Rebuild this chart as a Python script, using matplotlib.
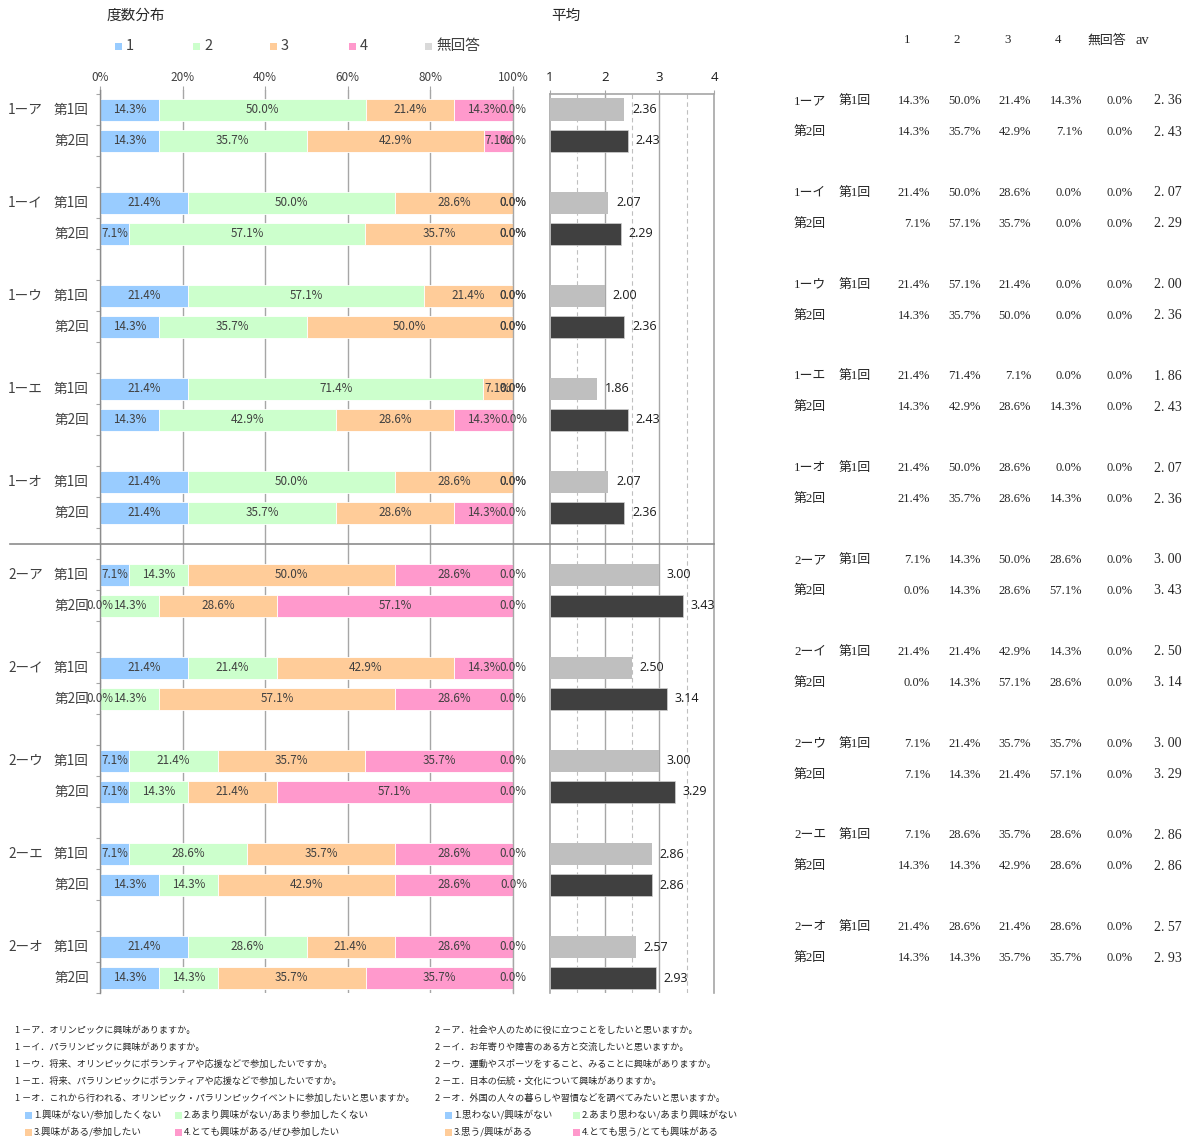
import matplotlib
matplotlib.use('Agg')
import matplotlib.pyplot as plt
from matplotlib.patches import Rectangle
from matplotlib.lines import Line2D

plt.rcParams['font.family'] = ['Noto Sans CJK JP', 'DejaVu Sans']

# ---------------- data ----------------
groups = ['1ーア', '1ーイ', '1ーウ', '1ーエ', '1ーオ', '2ーア', '2ーイ', '2ーウ', '2ーエ', '2ーオ']
rounds = ['第1回', '第2回']
series_names = ['1', '2', '3', '4', '無回答']
pct1 = [14.3, 14.3, 21.4, 7.1, 21.4, 14.3, 21.4, 14.3, 21.4, 21.4,
        7.1, 0.0, 21.4, 0.0, 7.1, 7.1, 7.1, 14.3, 21.4, 14.3]
pct2 = [50.0, 35.7, 50.0, 57.1, 57.1, 35.7, 71.4, 42.9, 50.0, 35.7,
        14.3, 14.3, 21.4, 14.3, 21.4, 14.3, 28.6, 14.3, 28.6, 14.3]
pct3 = [21.4, 42.9, 28.6, 35.7, 21.4, 50.0, 7.1, 28.6, 28.6, 28.6,
        50.0, 28.6, 42.9, 57.1, 35.7, 21.4, 35.7, 42.9, 21.4, 35.7]
pct4 = [14.3, 7.1, 0.0, 0.0, 0.0, 0.0, 0.0, 14.3, 0.0, 14.3,
        28.6, 57.1, 14.3, 28.6, 35.7, 57.1, 28.6, 28.6, 28.6, 35.7]
pct_na = [0.0, 0.0, 0.0, 0.0, 0.0, 0.0, 0.0, 0.0, 0.0, 0.0,
          0.0, 0.0, 0.0, 0.0, 0.0, 0.0, 0.0, 0.0, 0.0, 0.0]
avg = [2.36, 2.43, 2.07, 2.29, 2.00, 2.36, 1.86, 2.43, 2.07, 2.36,
       3.00, 3.43, 2.50, 3.14, 3.00, 3.29, 2.86, 2.86, 2.57, 2.93]
pct_ticks = [0, 20, 40, 60, 80, 100]
pct_tick_labels = ['0%', '20%', '40%', '60%', '80%', '100%']
avg_ticks = [1, 2, 3, 4]
table_header = ['1', '2', '3', '4', '無回答', 'av']
notes_left = ['1 －ア．オリンピックに興味がありますか。',
              '1 －イ．パラリンピックに興味がありますか。',
              '1 －ウ．将来、オリンピックにボランティアや応援などで参加したいですか。',
              '1 －エ．将来、パラリンピックにボランティアや応援などで参加したいですか。',
              '1 －オ．これから行われる、オリンピック・パラリンピックイベントに参加したいと思いますか。']
notes_right = ['2 －ア．社会や人のために役に立つことをしたいと思いますか。',
               '2 －イ．お年寄りや障害のある方と交流したいと思いますか。',
               '2 －ウ．運動やスポーツをすること、みることに興味がありますか。',
               '2 －エ．日本の伝統・文化について興味がありますか。',
               '2 －オ．外国の人々の暮らしや習慣などを調べてみたいと思いますか。']
legend_left = ['1.興味がない/参加したくない', '2.あまり興味がない/あまり参加したくない',
               '3.興味がある/参加したい', '4.とても興味がある/ぜひ参加したい']
legend_right = ['1.思わない/興味がない', '2.あまり思わない/あまり興味がない',
                '3.思う/興味がある', '4.とても思う/とても興味がある']

colors = ['#99CCFF', '#CCFFCC', '#FFCC99', '#FF99CC', '#D9D9D9']
avg_colors = ['#BFBFBF', '#404040']
txt = '#404040'
gridc = '#A6A6A6'

W, H = 1190, 1139
fig = plt.figure(figsize=(W / 100, H / 100), dpi=100)


def fx(x):
    return x / W


def fy(y):
    return 1 - y / H


def rect_px(x0, y0, x1, y1):
    return [fx(x0), fy(y1), fx(x1) - fx(x0), fy(y0) - fy(y1)]


n = len(pct1)
slots = [(i // 2) * 3 + (i % 2) for i in range(n)]
bar_h = 0.71
ybot = 28.48

# ---------------- left: distribution ----------------
ax = fig.add_axes(rect_px(100, 90, 513, 993))
series = [pct1, pct2, pct3, pct4, pct_na]
lefts = [0.0] * n
for k, vals in enumerate(series):
    ax.barh(slots, vals, left=lefts, height=bar_h, color=colors[k], edgecolor='white',
            linewidth=0.6, zorder=3)
    for i in range(n):
        ax.text(lefts[i] + vals[i] / 2, slots[i], f'{vals[i]:.1f}%', ha='center', va='center',
                fontsize=8.4, color=txt, zorder=5, clip_on=False)
    lefts = [lefts[i] + vals[i] for i in range(n)]

ax.set_xlim(0, 100)
ax.set_ylim(ybot, -0.645)
ax.xaxis.tick_top()
ax.set_xticks(pct_ticks)
ax.set_xticklabels(pct_tick_labels, fontsize=8.5, color=txt)
ax.tick_params(axis='x', length=3, width=0.8, color=gridc, pad=1.5)
ax.set_yticks([s - 0.5 for s in range(0, 30)])
ax.set_yticklabels([])
ax.tick_params(axis='y', length=3, width=0.8, color=gridc)
ax.grid(axis='x', color=gridc, linewidth=1.0, zorder=0)
for sp in ['top', 'bottom']:
    ax.spines[sp].set_visible(False)
ax.spines['right'].set_color(gridc)
ax.spines['right'].set_linewidth(1.0)
ax.spines['right'].set_zorder(4)
ax.spines['left'].set_color('#8C8C8C')
ax.spines['left'].set_linewidth(1.0)
ax.spines['left'].set_zorder(4)

for i in range(n):
    ax.annotate(rounds[i % 2], xy=(0, slots[i]), xycoords=('axes fraction', 'data'),
                xytext=(-8, 0), textcoords='offset points', ha='right', va='center',
                fontsize=9.8, color=txt)
    if i % 2 == 0:
        ax.annotate(groups[i // 2], xy=(0, slots[i]), xycoords=('axes fraction', 'data'),
                    xytext=(-41, 0), textcoords='offset points', ha='right', va='center',
                    fontsize=9.8, color=txt)

# ---------------- middle: averages ----------------
ax2 = fig.add_axes(rect_px(550, 94, 714, 993))
for i in range(n):
    ax2.barh(slots[i], avg[i] - 1, left=1, height=bar_h, color=avg_colors[i % 2],
             edgecolor='#D0D0D0' if i % 2 else 'none', linewidth=0.5, zorder=3)
    ax2.annotate(f'{avg[i]:.2f}', xy=(avg[i], slots[i]), xytext=(5.5, 0),
                 textcoords='offset points', ha='left', va='center', fontsize=9,
                 color='#1A1A1A', family=['Open Sans', 'DejaVu Sans'])
ax2.set_xlim(1, 4)
ax2.set_ylim(ybot, -0.5)
ax2.xaxis.tick_top()
ax2.set_xticks(avg_ticks)
ax2.set_xticklabels([str(t) for t in avg_ticks], fontsize=9.5, color='#1A1A1A',
                    family=['Open Sans', 'DejaVu Sans'])
ax2.tick_params(axis='x', length=3, width=0.8, color=gridc, pad=4.5)
ax2.set_yticks([])
for t in avg_ticks[1:-1]:
    ax2.axvline(t, color=gridc, linewidth=1.0, zorder=0)
for t in [1.5, 2.5, 3.5]:
    ax2.axvline(t, color='#BFBFBF', linewidth=0.8, linestyle=(0, (4, 3)), zorder=0)
ax2.spines['bottom'].set_visible(False)
for sp in ['top', 'left', 'right']:
    ax2.spines[sp].set_color(gridc)
    ax2.spines[sp].set_linewidth(1.2)

# separator line between blocks
fig.add_artist(Line2D([fx(10), fx(714)], [fy(544), fy(544)], color='#8C8C8C', linewidth=1.2))

# ---------------- titles & legend ----------------
fig.text(fx(107), fy(16), '度数分布', fontsize=10.5, color='#262626', va='center', ha='left')
fig.text(fx(551), fy(16), '平均', fontsize=10.5, color='#262626', va='center', ha='left')
leg_x = [115, 193, 270, 349, 425]
for k, name in enumerate(series_names):
    fig.add_artist(Rectangle((fx(leg_x[k]), fy(50)), fx(7), 7 / H, transform=fig.transFigure,
                             facecolor=colors[k], edgecolor='none'))
    fig.text(fx(leg_x[k] + 11), fy(46), name, fontsize=10.5, color=txt, va='center', ha='left')

# ---------------- right: table ----------------
tfam = ['Liberation Serif', 'Noto Sans CJK JP']
tcol = '#262626'
tfs = 9.3
head_x = [907, 957, 1008, 1058]
for k in range(4):
    fig.text(fx(head_x[k]), fy(40), table_header[k], fontsize=tfs, family=tfam, color=tcol,
             ha='center', va='center')
fig.text(fx(1087), fy(40), table_header[4], fontsize=tfs, family=tfam, color=tcol,
         ha='left', va='center')
fig.text(fx(1136), fy(40), table_header[5], fontsize=10.5, family=tfam, color=tcol,
         ha='left', va='center')
col_r = [930, 981, 1031, 1082, 1133, 1182]
for i in range(n):
    y = 101 + (i // 2) * 91.8 + (i % 2) * 31
    if i % 2 == 0:
        fig.text(fx(794), fy(y), groups[i // 2], fontsize=tfs, family=tfam, color=tcol,
                 ha='left', va='center')
        fig.text(fx(839), fy(y), rounds[0], fontsize=tfs, family=tfam, color=tcol,
                 ha='left', va='center')
    else:
        fig.text(fx(794), fy(y), rounds[1], fontsize=tfs, family=tfam, color=tcol,
                 ha='left', va='center')
    vals = [pct1[i], pct2[i], pct3[i], pct4[i], pct_na[i]]
    for k, v in enumerate(vals):
        fig.text(fx(col_r[k]), fy(y), f'{v:.1f}%', fontsize=9, family=tfam, color=tcol,
                 ha='right', va='center')
    fig.text(fx(col_r[5]), fy(y), f'{avg[i]:.2f}'.replace('.', '. '), fontsize=10,
             family=tfam, color=tcol, ha='right', va='center')

# ---------------- footnotes ----------------
note_y = [1030, 1047, 1064, 1081, 1098]
for j in range(5):
    fig.text(fx(15), fy(note_y[j]), notes_left[j], fontsize=6.6, color='#262626',
             ha='left', va='center')
    fig.text(fx(435), fy(note_y[j]), notes_right[j], fontsize=6.6, color='#262626',
             ha='left', va='center')
pos_left = [(25, 1115), (175, 1115), (25, 1132), (175, 1132)]
pos_right = [(445, 1115), (573, 1115), (445, 1132), (573, 1132)]
for k in range(4):
    for (px, py), lab in [(pos_left[k], legend_left[k]), (pos_right[k], legend_right[k])]:
        fig.add_artist(Rectangle((fx(px), fy(py + 3.5)), fx(7), 7 / H, transform=fig.transFigure,
                                 facecolor=colors[k], edgecolor='none'))
        fig.text(fx(px + 9), fy(py), lab, fontsize=6.9, color='#262626', ha='left', va='center')

fig.savefig('out.png', dpi=100)
